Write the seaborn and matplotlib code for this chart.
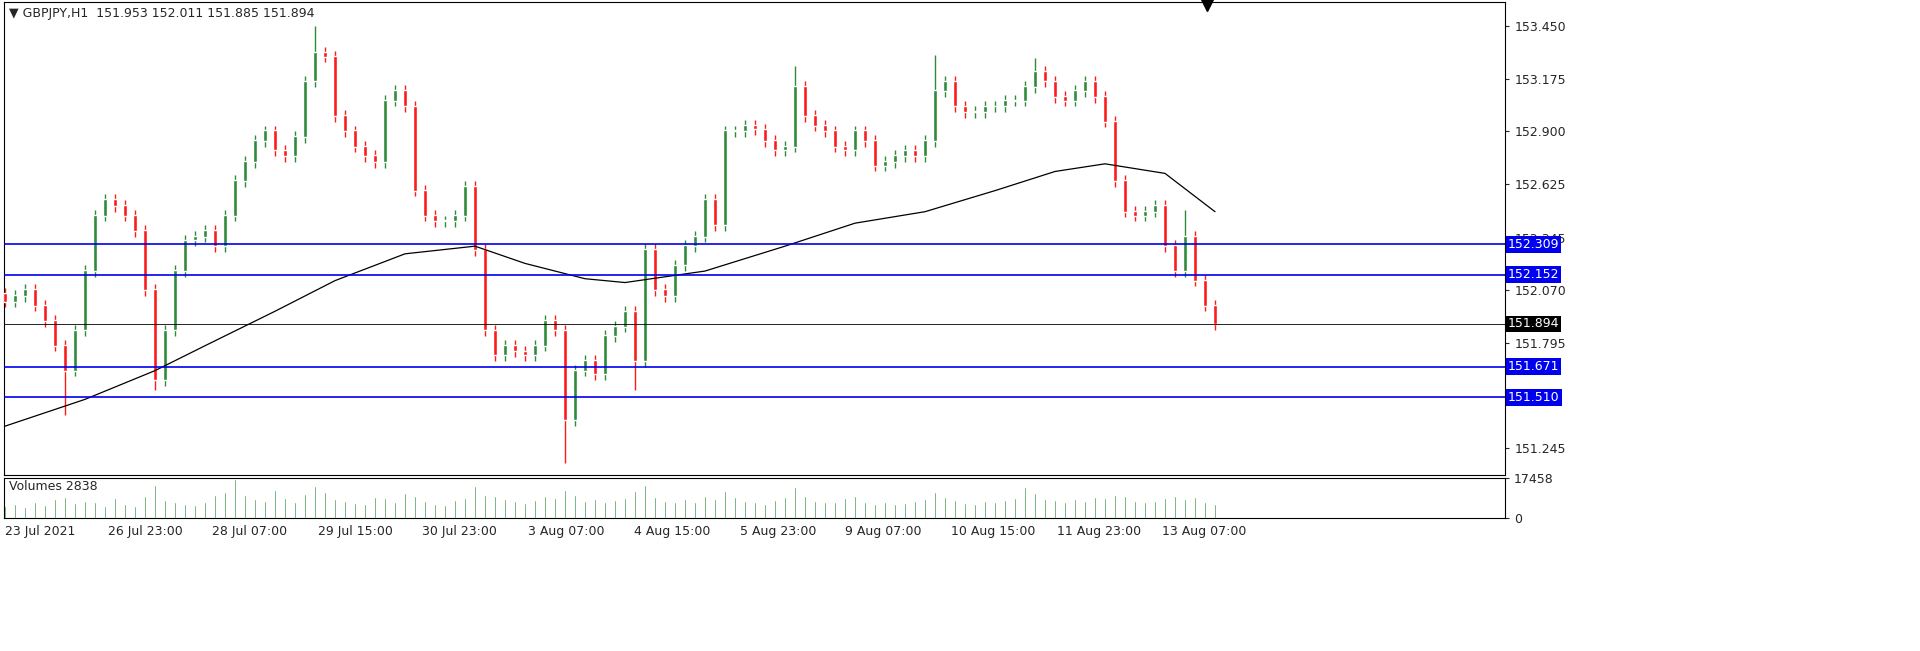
import matplotlib.pyplot as plt
import seaborn as sns
import numpy as np

# closes sampled every 3 hours (approx), last is current price
closes = [152.01, 152.04, 152.07, 151.99, 151.91, 151.78, 151.65, 151.86, 152.17, 152.46,
          152.54, 152.51, 152.46, 152.38, 152.07, 151.60, 151.86, 152.17, 152.33, 152.35,
          152.38, 152.30, 152.46, 152.64, 152.74, 152.85, 152.90, 152.80, 152.77, 152.87,
          153.16, 153.31, 153.29, 152.98, 152.90, 152.82, 152.77, 152.74, 153.06, 153.11,
          153.03, 152.59, 152.46, 152.43, 152.43, 152.46, 152.61, 152.28, 151.86, 151.73,
          151.78, 151.75, 151.73, 151.78, 151.91, 151.86, 151.39, 151.65, 151.70, 151.63,
          151.83, 151.88, 151.96, 151.70, 152.28, 152.07, 152.04, 152.20, 152.30, 152.35,
          152.54, 152.41, 152.90, 152.90, 152.93, 152.91, 152.85, 152.80, 152.82, 153.13,
          152.98, 152.93, 152.90, 152.82, 152.80, 152.90, 152.85, 152.72, 152.74, 152.77,
          152.80, 152.77, 152.85, 153.11, 153.16, 153.03, 153.00, 153.00, 153.03, 153.03,
          153.06, 153.06, 153.13, 153.21, 153.16, 153.08, 153.06, 153.11, 153.16, 153.08,
          152.95, 152.64, 152.48, 152.46, 152.48, 152.51, 152.30, 152.17, 152.35, 152.12,
          151.99, 151.894]
first_open = 152.05
spike_idx = [6, 15, 56, 63, 31, 79, 93, 103, 118]
spike_price = [151.42, 151.55, 151.17, 151.55, 153.45, 153.24, 153.30, 153.28, 152.49]
ma_idx = [0, 8, 15, 20, 27, 33, 40, 47, 52, 58, 62, 70, 78, 85, 92, 99, 105, 110, 116, 121]
ma_val = [151.36, 151.50, 151.65, 151.78, 151.96, 152.12, 152.26, 152.30, 152.21, 152.13,
          152.11, 152.17, 152.30, 152.42, 152.48, 152.59, 152.69, 152.73, 152.68, 152.48]
volumes = [5200, 6100, 4800, 7000, 5600, 8200, 9100, 6400, 7300, 6800,
           5200, 8800, 6100, 5400, 9500, 14200, 7800, 6900, 6200, 5800,
           7100, 9900, 11400, 17000, 10200, 8300, 7600, 12100, 8700, 6900,
           10400, 13800, 11200, 8100, 7400, 6600, 5900, 9300, 8800, 7100,
           10800, 9600, 7300, 6200, 5800, 7900, 8700, 13900, 10100, 9400,
           8100, 7300, 6500, 7700, 9800, 8600, 12400, 9900, 7400, 8300,
           6900, 7700, 8800, 11900, 14500, 9200, 7600, 6800, 8500, 7200,
           9600, 8100, 11800, 9300, 7400, 6900, 6100, 7800, 9000, 13600,
           9800, 7600, 6800, 7200, 8900, 9700, 7100, 6300, 6800, 5900,
           6600, 7300, 8100, 11200, 9000, 7800, 6700, 6200, 7400, 6900,
           7800, 8700, 13400, 10900, 8300, 7700, 6900, 8200, 7500, 9100,
           8600, 10200, 9400, 7600, 6800, 7300, 8900, 9600, 8300, 9100,
           7200, 6000]
levels_blue = [152.309, 152.152, 151.671, 151.510]
price_ticks = [153.450, 153.175, 152.900, 152.625, 152.345, 152.070, 151.795, 151.520, 151.245]
time_labels = ['23 Jul 2021', '26 Jul 23:00', '28 Jul 07:00', '29 Jul 15:00', '30 Jul 23:00',
               '3 Aug 07:00', '4 Aug 15:00', '5 Aug 23:00', '9 Aug 07:00', '10 Aug 15:00',
               '11 Aug 23:00', '13 Aug 07:00']
time_pos = [0, 10.3, 20.7, 31.3, 41.7, 52.3, 62.9, 73.5, 84.0, 94.6, 105.2, 115.7]

sns.set_style('white')
plt.rcParams['font.family'] = ['DejaVu Sans']
fig = plt.figure(figsize=(19.2, 6.51), dpi=100)
W, H = 1920, 651
ax = fig.add_axes([4 / W, 1 - 475 / H, 1501 / W, 473 / H])
vax = fig.add_axes([4 / W, 1 - 518 / H, 1501 / W, 40 / H])

opens = [first_open] + closes[:-1]
n = len(closes)
idx = np.arange(n)
highs = [max(o, c) + 0.03 for o, c in zip(opens, closes)]
lows = [min(o, c) - 0.03 for o, c in zip(opens, closes)]
for i, p in zip(spike_idx, spike_price):
    if p > highs[i]:
        highs[i] = p
    else:
        lows[i] = p
colors = ['#2e8b3a' if c >= o else '#ff1a1a' for o, c in zip(opens, closes)]
ax.vlines(idx, lows, highs, colors=colors, linewidth=1, zorder=2)
ax.bar(idx, [abs(c - o) + 0.004 for o, c in zip(opens, closes)],
       bottom=[min(o, c) for o, c in zip(opens, closes)], width=0.45, color=colors, zorder=3)
ax.plot(ma_idx, ma_val, color='black', linewidth=0.9, zorder=4)

for lv in levels_blue:
    ax.axhline(lv, color='#0000ee', linewidth=1.2, zorder=5)
ax.axhline(closes[-1], color='black', linewidth=0.6, zorder=5)

ax.set_xlim(-0.1, 150)
ax.set_ylim(151.105, 153.575)
ax.set_xticks([])
ax.yaxis.tick_right()
# tick labels hidden behind the level boxes are left out
shown_ticks = [t for t in price_ticks if all(abs(t - lv) > 0.03 for lv in levels_blue)]
ax.set_yticks(shown_ticks)
ax.set_yticklabels([f'{t:.3f}' for t in shown_ticks], fontsize=9)
ax.tick_params(axis='y', length=3, pad=4)
for lv in levels_blue:
    ax.text(1.002, lv, f'{lv:.3f}', transform=ax.get_yaxis_transform(), fontsize=9,
            color='white', va='center', ha='left',
            bbox=dict(boxstyle='square,pad=0.15', fc='#0000ee', ec='none'), zorder=10)
ax.text(1.002, closes[-1], f'{closes[-1]:.3f}', transform=ax.get_yaxis_transform(), fontsize=9,
        color='white', va='center', ha='left',
        bbox=dict(boxstyle='square,pad=0.15', fc='black', ec='none'), zorder=10)
ax.text(0.003, 0.99, '▼ GBPJPY,H1  151.953 152.011 151.885 151.894', transform=ax.transAxes,
        fontsize=9, va='top', ha='left')
ax.plot([120.2], [153.56], marker='v', color='black', markersize=9, clip_on=False)
for s in ax.spines.values():
    s.set_color('black')
    s.set_linewidth(0.8)

vax.bar(idx, volumes, width=0.25, color='#2e8b3a')
vax.set_xlim(-0.1, 150)
vax.set_ylim(0, 17458)
vax.yaxis.tick_right()
vax.set_yticks([0, 17458])
vax.set_yticklabels(['0', '17458'], fontsize=9)
vax.tick_params(axis='y', length=3)
vax.set_xticks(time_pos)
vax.set_xticklabels(time_labels, fontsize=9, ha='left')
vax.tick_params(axis='x', length=3, pad=2)
vax.text(0.003, 0.95, 'Volumes 2838', transform=vax.transAxes, fontsize=9, va='top')
for s in vax.spines.values():
    s.set_color('black')
    s.set_linewidth(0.8)

fig.savefig('out.png', dpi=100)
